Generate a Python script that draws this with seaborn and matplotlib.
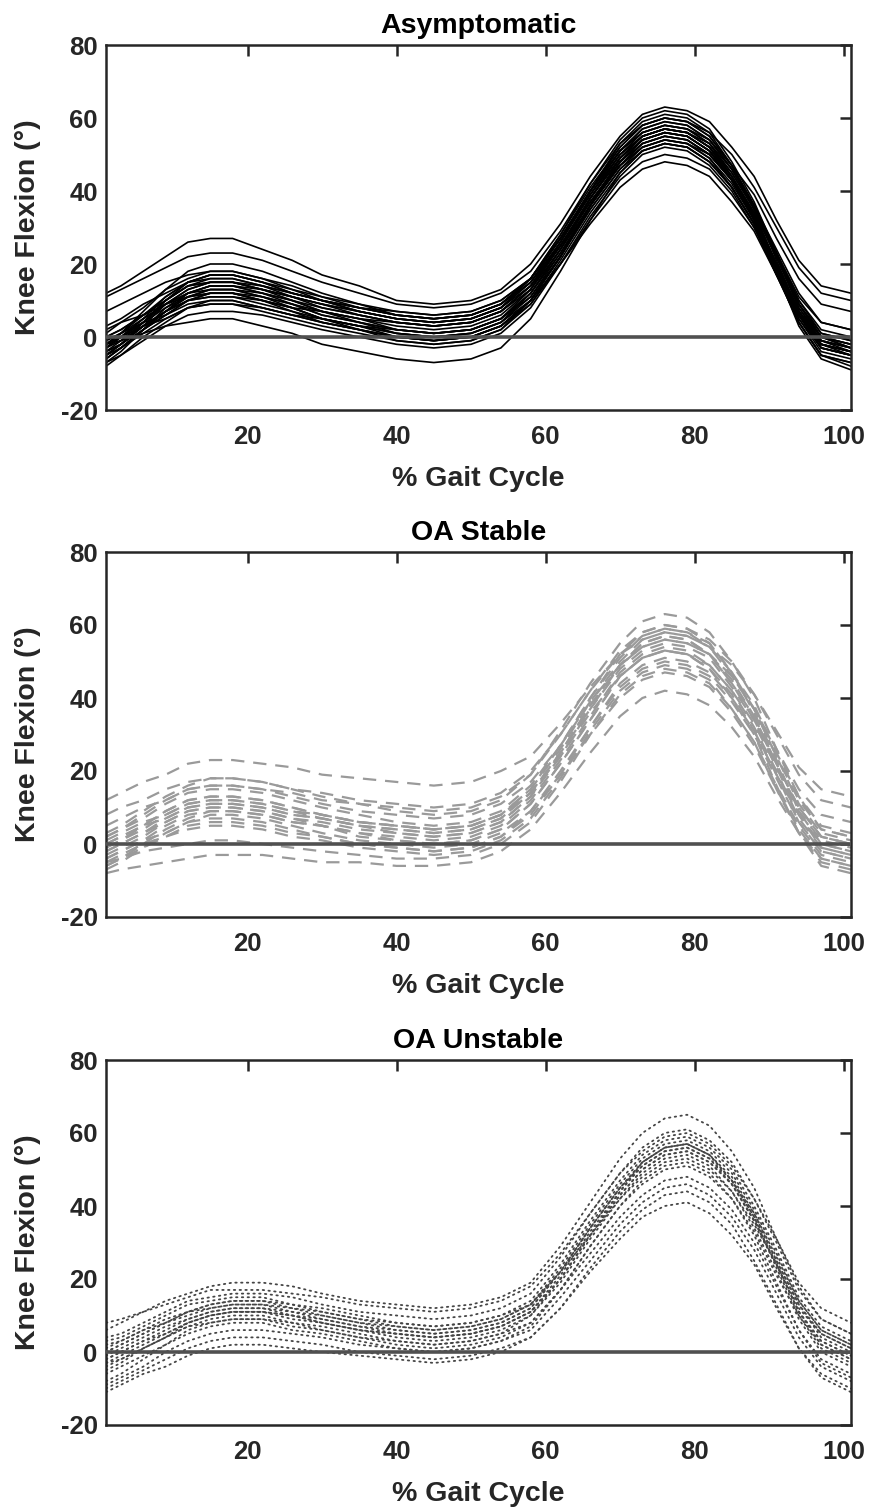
import numpy as np
import pandas as pd
import matplotlib
matplotlib.use("Agg")
import matplotlib.pyplot as plt
import seaborn as sns

# ---------------- data (values read/estimated from the picture) ----------------
gait_pct = [1, 3, 6, 9, 12, 15, 18, 22, 26, 30, 35, 40, 45, 50, 54, 58,
            62, 66, 70, 73, 76, 79, 82, 85, 88, 91, 94, 97, 101]

asymptomatic = [
    [12, 14, 18, 22, 26, 27, 27, 24, 21, 17, 14, 10, 9, 10, 13, 20, 31, 44, 55, 61, 63, 62, 59, 52, 44, 32, 21, 14, 12],
    [11, 13, 16, 19, 22, 23, 23, 21, 18, 15, 12, 9, 8, 9, 12, 18, 29, 42, 53, 58, 60, 59, 56, 50, 41, 30, 19, 12, 10],
    [7, 9, 12, 15, 17, 18, 18, 16, 14, 11, 9, 7, 6, 7, 10, 16, 27, 40, 51, 56, 58, 57, 54, 47, 39, 27, 16, 9, 7],
    [-3, 0, 5, 9, 13, 15, 15, 13, 11, 8, 6, 4, 3, 4, 7, 14, 25, 38, 49, 55, 57, 56, 52, 44, 34, 20, 7, -2, -4],
    [-6, -3, 2, 8, 12, 14, 14, 12, 10, 7, 4, 2, 1, 2, 5, 12, 24, 37, 48, 54, 56, 55, 51, 43, 33, 19, 6, -3, -5],
    [-2, 1, 6, 11, 15, 17, 17, 15, 13, 10, 8, 6, 5, 6, 9, 16, 27, 40, 51, 56, 58, 57, 53, 45, 35, 22, 9, 0, -2],
    [-4, -2, 3, 7, 10, 12, 12, 10, 8, 5, 3, 1, 0, 1, 4, 11, 23, 36, 47, 53, 55, 54, 50, 43, 33, 20, 7, -1, -3],
    [-1, 1, 5, 9, 12, 13, 13, 12, 10, 8, 6, 4, 3, 4, 7, 14, 26, 39, 51, 57, 59, 58, 54, 46, 35, 22, 8, 0, -3],
    [-8, -5, 0, 4, 8, 10, 10, 8, 6, 4, 2, 0, -1, 0, 3, 10, 22, 35, 46, 52, 54, 53, 49, 41, 31, 17, 4, -5, -7],
    [0, 2, 6, 10, 14, 15, 15, 14, 12, 10, 8, 7, 6, 7, 10, 16, 27, 39, 50, 55, 57, 56, 52, 44, 34, 20, 7, -2, -4],
    [-5, -3, 1, 5, 8, 9, 9, 7, 5, 3, 1, -1, -2, -1, 2, 9, 21, 34, 45, 51, 53, 52, 48, 41, 31, 18, 5, -3, -5],
    [-3, 0, 4, 9, 12, 14, 14, 13, 11, 9, 7, 5, 4, 5, 8, 16, 28, 42, 54, 60, 62, 61, 57, 48, 37, 23, 9, 0, -3],
    [-2, 0, 3, 5, 8, 9, 9, 8, 6, 5, 3, 2, 1, 2, 5, 11, 22, 35, 46, 51, 53, 52, 48, 41, 31, 19, 6, -2, -4],
    [3, 5, 9, 12, 15, 16, 16, 14, 12, 10, 8, 6, 5, 6, 9, 15, 25, 37, 47, 52, 54, 53, 50, 43, 34, 23, 11, 4, 2],
    [-7, -5, -1, 3, 6, 7, 7, 6, 4, 2, 0, -2, -3, -2, 1, 8, 20, 33, 44, 50, 52, 51, 47, 40, 30, 17, 4, -5, -7],
    [-4, -1, 4, 10, 14, 16, 16, 14, 11, 9, 6, 4, 3, 4, 7, 14, 25, 38, 49, 54, 56, 55, 51, 43, 33, 19, 6, -3, -5],
    [-1, 1, 4, 6, 9, 10, 10, 8, 6, 4, 2, 0, -1, 0, 3, 10, 22, 36, 48, 54, 56, 55, 51, 44, 34, 22, 9, 1, -1],
    [-6, -3, 2, 7, 11, 13, 13, 11, 8, 5, 3, 0, -1, 0, 3, 10, 22, 36, 48, 54, 56, 55, 51, 43, 32, 19, 5, -4, -6],
    [-3, -1, 3, 7, 10, 11, 11, 9, 7, 5, 3, 1, 0, 1, 4, 10, 20, 31, 41, 46, 48, 47, 44, 37, 29, 17, 6, -1, -3],
    [-5, -2, 4, 10, 15, 17, 17, 15, 12, 10, 7, 5, 4, 5, 8, 15, 27, 40, 52, 58, 60, 59, 55, 47, 36, 22, 8, -1, -4],
    [-2, -1, 1, 3, 4, 5, 5, 3, 1, -2, -4, -6, -7, -6, -3, 5, 18, 32, 45, 51, 53, 52, 48, 41, 31, 19, 6, -2, -4],
    [1, 4, 8, 13, 16, 18, 18, 16, 13, 11, 8, 6, 5, 6, 9, 16, 27, 40, 51, 57, 59, 58, 54, 46, 36, 23, 10, 1, -1],
    [-4, -2, 2, 6, 10, 11, 11, 10, 8, 7, 5, 4, 3, 4, 7, 13, 24, 36, 47, 52, 54, 53, 49, 42, 32, 19, 6, -3, -5],
    [-2, 1, 7, 13, 18, 20, 20, 18, 15, 12, 9, 6, 5, 6, 9, 16, 28, 41, 52, 58, 60, 59, 55, 47, 36, 23, 9, 0, -2],
    [-6, -3, 2, 6, 10, 12, 12, 10, 7, 4, 2, -1, -2, -1, 2, 10, 22, 36, 49, 55, 57, 56, 52, 43, 32, 18, 4, -5, -8],
    [0, 2, 6, 10, 14, 15, 15, 13, 11, 9, 7, 5, 4, 5, 8, 15, 26, 39, 50, 55, 57, 56, 52, 45, 35, 23, 10, 2, 0],
    [-5, -2, 3, 9, 13, 15, 15, 13, 10, 7, 5, 2, 1, 2, 5, 12, 23, 36, 47, 53, 55, 54, 50, 43, 33, 20, 7, -1, -3],
    [-7, -4, 2, 7, 12, 14, 14, 12, 9, 6, 4, 1, 0, 1, 4, 12, 24, 38, 50, 56, 58, 57, 53, 44, 33, 18, 3, -6, -9],
    [2, 4, 6, 9, 11, 12, 12, 11, 9, 7, 5, 3, 2, 3, 6, 13, 25, 38, 49, 55, 57, 56, 53, 46, 36, 24, 12, 4, 2],
    [-5, -2, 3, 7, 11, 13, 13, 11, 9, 6, 4, 2, 1, 2, 5, 13, 26, 40, 53, 59, 61, 60, 56, 47, 36, 21, 7, -2, -5],
    [-2, 0, 4, 8, 11, 12, 12, 10, 8, 5, 2, 0, -1, 0, 3, 9, 20, 32, 43, 48, 50, 49, 46, 39, 30, 19, 7, 0, -2],
    [-3, 0, 5, 11, 15, 17, 17, 15, 12, 10, 7, 5, 4, 5, 8, 14, 25, 37, 48, 53, 55, 54, 50, 43, 33, 20, 7, -2, -4],
]

oa_stable = [
    [12, 14, 17, 19, 22, 23, 23, 22, 21, 19, 18, 17, 16, 17, 20, 24, 33, 43, 52, 56, 58, 57, 54, 49, 41, 31, 21, 15, 13],
    [-8, -7, -6, -5, -4, -3, -3, -3, -4, -5, -5, -6, -6, -5, -2, 4, 14, 25, 35, 40, 42, 41, 38, 32, 24, 13, 3, -4, -6],
    [-5, -4, -2, -1, 0, 1, 1, 0, -1, -2, -3, -4, -4, -3, 0, 6, 17, 30, 41, 46, 48, 47, 44, 37, 28, 16, 5, -3, -5],
    [-2, 0, 3, 7, 10, 11, 11, 10, 8, 7, 5, 4, 3, 4, 7, 14, 25, 38, 49, 55, 57, 56, 52, 45, 35, 22, 9, 1, -1],
    [0, 2, 5, 9, 12, 13, 13, 12, 10, 8, 6, 5, 4, 5, 8, 15, 27, 40, 52, 58, 60, 59, 55, 47, 36, 23, 9, 0, -2],
    [-4, -2, 1, 5, 8, 9, 9, 8, 6, 5, 3, 2, 1, 2, 5, 12, 23, 35, 47, 52, 54, 53, 49, 42, 32, 20, 7, -1, -3],
    [3, 5, 9, 13, 16, 18, 18, 17, 15, 13, 11, 9, 8, 9, 12, 19, 31, 44, 55, 61, 63, 62, 58, 50, 40, 26, 13, 4, 2],
    [-6, -4, 0, 4, 7, 9, 9, 8, 6, 5, 2, 1, 0, 1, 4, 11, 22, 34, 46, 51, 53, 52, 48, 40, 30, 16, 3, -6, -8],
    [-1, 1, 4, 8, 11, 12, 12, 11, 9, 7, 5, 3, 2, 3, 6, 13, 24, 37, 48, 53, 55, 54, 51, 43, 34, 22, 10, 2, 0],
    [2, 4, 8, 12, 15, 16, 16, 15, 14, 12, 11, 10, 9, 10, 13, 19, 30, 42, 52, 57, 59, 58, 55, 47, 38, 25, 13, 5, 3],
    [-3, -1, 2, 6, 9, 10, 10, 9, 7, 5, 3, 1, 0, 1, 4, 11, 22, 34, 46, 51, 53, 52, 48, 41, 31, 19, 6, -2, -4],
    [5, 7, 10, 12, 15, 16, 16, 15, 13, 11, 9, 8, 7, 8, 11, 17, 27, 39, 49, 54, 56, 55, 52, 46, 37, 26, 15, 8, 6],
    [-7, -5, -1, 3, 6, 8, 8, 7, 5, 3, 1, 0, -1, 0, 3, 9, 19, 30, 40, 45, 47, 46, 43, 36, 27, 15, 4, -4, -6],
    [1, 3, 6, 8, 11, 12, 12, 11, 9, 8, 6, 5, 4, 5, 8, 15, 26, 39, 50, 56, 58, 57, 54, 46, 37, 24, 12, 4, 2],
    [-2, 0, 3, 6, 9, 10, 10, 9, 7, 6, 4, 3, 2, 3, 6, 13, 25, 38, 49, 55, 57, 56, 52, 44, 34, 21, 8, -1, -3],
    [8, 10, 12, 15, 17, 18, 18, 17, 15, 14, 12, 11, 10, 11, 14, 20, 30, 42, 53, 58, 60, 59, 56, 50, 41, 30, 19, 12, 10],
    [-4, -2, 1, 3, 6, 7, 7, 6, 4, 2, 0, -1, -2, -1, 2, 9, 20, 32, 44, 49, 51, 50, 47, 40, 31, 19, 8, 0, -2],
    [0, 2, 5, 7, 10, 11, 11, 10, 8, 7, 5, 4, 3, 4, 7, 14, 25, 37, 49, 54, 56, 55, 52, 44, 35, 22, 10, 2, 0],
    [-5, -3, 0, 2, 5, 6, 6, 5, 3, 2, 0, -1, -2, -1, 2, 8, 19, 32, 43, 48, 50, 49, 46, 39, 30, 18, 6, -2, -4],
    [2, 4, 7, 11, 14, 15, 15, 14, 12, 10, 8, 6, 5, 6, 9, 16, 27, 40, 51, 57, 59, 58, 54, 47, 37, 24, 11, 3, 1],
    [-1, 1, 5, 9, 12, 13, 13, 12, 10, 8, 6, 5, 4, 5, 8, 14, 24, 36, 46, 51, 53, 52, 49, 42, 33, 21, 10, 2, 0],
    [-6, -4, -1, 2, 4, 5, 5, 4, 2, 1, -1, -2, -3, -2, 1, 7, 18, 31, 42, 47, 49, 48, 45, 37, 28, 15, 3, -5, -7],
]

oa_unstable = [
    [6, 8, 11, 14, 16, 18, 19, 19, 18, 16, 14, 13, 12, 13, 15, 19, 29, 41, 53, 60, 64, 65, 62, 55, 45, 31, 18, 9, 5],
    [-10, -8, -5, -2, 1, 3, 4, 4, 3, 2, 0, -1, -2, -1, 1, 4, 12, 22, 31, 37, 40, 41, 38, 32, 24, 12, 1, -6, -10],
    [-3, -1, 2, 5, 8, 10, 11, 11, 10, 8, 6, 5, 4, 5, 7, 11, 21, 33, 44, 51, 55, 56, 53, 46, 36, 24, 11, 2, -2],
    [0, 2, 5, 8, 10, 12, 13, 13, 11, 10, 8, 6, 5, 6, 8, 12, 22, 34, 45, 52, 56, 57, 54, 47, 38, 25, 13, 4, 0],
    [-5, -3, 1, 4, 8, 10, 11, 11, 9, 8, 6, 4, 3, 4, 6, 10, 19, 31, 42, 49, 53, 54, 51, 44, 34, 22, 9, 0, -4],
    [3, 4, 7, 10, 13, 14, 15, 15, 13, 12, 10, 8, 7, 8, 10, 14, 24, 36, 47, 54, 58, 59, 56, 50, 40, 28, 15, 7, 3],
    [-2, 0, 3, 6, 9, 11, 12, 12, 11, 9, 7, 6, 5, 6, 8, 12, 22, 34, 45, 52, 56, 57, 54, 47, 37, 23, 10, 1, -3],
    [-8, -6, -2, 2, 6, 8, 9, 9, 8, 6, 4, 3, 2, 3, 5, 8, 17, 27, 37, 43, 47, 48, 45, 39, 30, 18, 6, -2, -6],
    [1, 3, 6, 9, 11, 13, 14, 14, 13, 11, 9, 8, 7, 8, 10, 13, 22, 32, 42, 48, 52, 53, 50, 44, 35, 24, 12, 5, 1],
    [-4, -2, 1, 4, 7, 9, 10, 10, 8, 7, 5, 3, 2, 3, 5, 10, 20, 32, 44, 52, 56, 57, 54, 48, 38, 26, 14, 6, 2],
    [4, 5, 8, 11, 14, 15, 16, 16, 15, 13, 11, 10, 9, 10, 12, 16, 26, 38, 49, 56, 60, 61, 58, 52, 42, 30, 17, 9, 5],
    [-6, -4, -1, 2, 5, 7, 8, 8, 6, 5, 3, 1, 0, 1, 3, 7, 17, 29, 40, 47, 51, 52, 49, 42, 32, 19, 6, -3, -7],
    [-1, 1, 4, 7, 9, 11, 12, 12, 10, 9, 7, 5, 4, 5, 7, 11, 20, 32, 43, 50, 54, 55, 52, 46, 36, 24, 11, 3, -1],
    [2, 3, 6, 8, 11, 12, 13, 13, 12, 10, 8, 7, 6, 7, 9, 13, 23, 35, 46, 53, 57, 58, 55, 49, 39, 27, 14, 6, 2],
    [-3, -2, 1, 4, 7, 8, 9, 9, 7, 6, 4, 2, 1, 2, 4, 8, 17, 29, 40, 46, 50, 51, 48, 42, 33, 21, 10, 2, -2],
    [-9, -7, -4, 0, 3, 5, 6, 6, 5, 4, 2, 1, 0, 1, 3, 6, 15, 25, 35, 41, 45, 46, 43, 37, 28, 16, 4, -4, -8],
    [0, 2, 5, 8, 11, 13, 14, 14, 12, 11, 9, 7, 6, 7, 9, 13, 22, 34, 45, 51, 55, 56, 53, 47, 37, 25, 13, 5, 1],
    [-2, 0, 3, 5, 8, 10, 11, 11, 10, 8, 6, 5, 4, 5, 7, 11, 20, 32, 43, 50, 54, 55, 52, 46, 36, 24, 11, 3, -1],
    [8, 9, 11, 13, 15, 17, 17, 17, 16, 15, 13, 12, 11, 12, 14, 18, 27, 38, 49, 55, 59, 60, 57, 51, 42, 31, 19, 12, 8],
    [-11, -9, -6, -4, -1, 1, 2, 2, 1, 0, -1, -2, -3, -2, 0, 4, 12, 23, 33, 39, 43, 44, 41, 35, 25, 13, 1, -7, -11],
]

titles = ["Asymptomatic", "OA Stable", "OA Unstable"]
x_ticks = [20, 40, 60, 80, 100]
y_ticks = [-20, 0, 20, 40, 60, 80]
x_label = "% Gait Cycle"
y_label = "Knee Flexion (°)"

# ---------------- styling ----------------
sns.set_style("white")
plt.rcParams["font.family"] = ["Liberation Sans", "DejaVu Sans"]
plt.rcParams["font.weight"] = "bold"
plt.rcParams["axes.unicode_minus"] = False

DARK = "#262626"
styles = [
    dict(color="black", lw=1.2, dashes=None),
    dict(color="#9a9a9a", lw=1.6, dashes=(6, 4)),
    dict(color="#454545", lw=1.3, dashes=(0.8, 2.4)),
]
groups = [asymptomatic, oa_stable, oa_unstable]

fig = plt.figure(figsize=(8.73, 15.11), dpi=100)
W, H = 873, 1511
ax_left, ax_right = 106, 851
tops = [45, 552, 1060]
ax_h = 365

for gi, (grp, title, st) in enumerate(zip(groups, titles, styles)):
    top = tops[gi]
    ax = fig.add_axes([ax_left / W, 1 - (top + ax_h) / H, (ax_right - ax_left) / W, ax_h / H])
    rows = []
    for si, curve in enumerate(grp):
        for xv, yv in zip(gait_pct, curve):
            rows.append((si, xv, yv))
    df = pd.DataFrame(rows, columns=["subject", "pct", "angle"])
    for si, sub in df.groupby("subject"):
        sns.lineplot(data=sub, x="pct", y="angle", ax=ax, estimator=None,
                     sort=False, legend=False, color=st["color"], linewidth=st["lw"])
    for ln in ax.get_lines():
        ln.set_solid_joinstyle("round")
        ln.set_dash_joinstyle("round")
        if st["dashes"] is not None:
            ln.set_dashes(st["dashes"])
            if gi == 2:
                ln.set_dash_capstyle("round")
    ax.axhline(0, color="#505050", lw=2.6, zorder=5)

    ax.set_xlim(1, 101)
    ax.set_ylim(-20, 80)
    ax.set_xticks(x_ticks)
    ax.set_yticks(y_ticks)
    ax.tick_params(direction="in", length=8, width=1.8, colors=DARK, labelsize=18.5,
                   top=True, right=True, pad=6)
    ax.tick_params(axis="x", pad=11)
    for lab in ax.get_xticklabels() + ax.get_yticklabels():
        lab.set_fontweight("bold")
    for sp in ax.spines.values():
        sp.set_visible(True)
        sp.set_color(DARK)
        sp.set_linewidth(1.8)
    ax.set_xlabel(x_label, fontsize=20.5, fontweight="bold", color=DARK, labelpad=12)
    ax.set_ylabel(y_label, fontsize=20.5, fontweight="bold", color=DARK)
    ax.yaxis.set_label_coords(-0.087, 0.5)
    ax.set_title(title, fontsize=20.5, fontweight="bold", color="black", pad=9)

fig.savefig("out.png", dpi=100)
